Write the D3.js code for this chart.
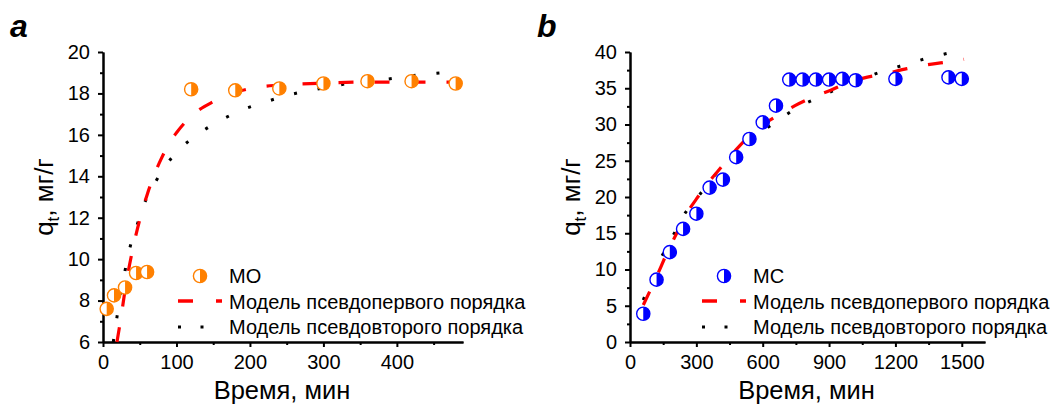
<!DOCTYPE html>
<html>
<head>
<meta charset="utf-8">
<script src="https://cdn.jsdelivr.net/npm/d3@7"></script>
<style>
  body { margin: 0; background: #fff; }
  svg text { font-family: "Liberation Sans", Arial, sans-serif; fill: #000; }
</style>
</head>
<body>
<svg id="chart" width="1062" height="406"></svg>
<script>
// panel a: MO
const aTime = [5, 15, 30, 45, 60, 120, 180, 240, 300, 360, 420, 480];
const aQ = [7.6, 8.25, 8.63, 9.33, 9.38, 18.2, 18.15, 18.24, 18.48, 18.59, 18.59, 18.48];
const aFirstT = [19, 25, 30, 40, 50, 60, 70, 80, 90, 100, 120, 150, 180, 210, 240, 300, 360, 420, 485];
const aFirstQ = [6.0, 7.3, 8.5, 10.4, 11.9, 13.1, 14.1, 14.9, 15.6, 16.1, 16.9, 17.6, 18.05, 18.3, 18.4, 18.5, 18.55, 18.55, 18.55];
const aSecondT = [14, 19, 23.5, 30, 37, 46, 57, 71, 87, 107, 132, 160, 189, 218, 250, 282, 314, 336, 368, 400, 432, 463];
const aSecondQ = [6.0, 7.2, 8.3, 9.45, 10.6, 11.6, 12.75, 13.7, 14.6, 15.4, 16.1, 16.7, 17.2, 17.55, 17.9, 18.15, 18.35, 18.5, 18.6, 18.75, 18.9, 19.0];
const aXTicks = [0, 100, 200, 300, 400];
const aXMinor = [50, 150, 250, 350, 450];
const aYTicks = [6, 8, 10, 12, 14, 16, 18, 20];
const aYMinor = [7, 9, 11, 13, 15, 17, 19];

// panel b: MC
const bTime = [60, 120, 180, 240, 300, 360, 420, 480, 540, 600, 660, 720, 780, 840, 900, 960, 1020, 1200, 1440, 1500];
const bQ = [3.9, 8.6, 12.4, 15.6, 17.7, 21.3, 22.4, 25.5, 28.0, 30.3, 32.6, 36.2, 36.2, 36.2, 36.2, 36.3, 36.1, 36.3, 36.5, 36.3];
const bFirstT = [60, 120, 166, 211, 248, 302, 347, 415, 482, 543, 603, 678, 746, 837, 905, 987, 1055, 1153, 1252, 1335, 1432, 1510];
const bFirstQ = [5.1, 9.0, 12.2, 15.0, 17.3, 19.8, 21.7, 24.2, 26.6, 28.5, 30.0, 31.4, 32.6, 33.9, 34.7, 35.8, 36.4, 37.0, 37.7, 38.2, 38.6, 39.0];
const bSecondT = [60, 100, 143, 196, 241, 302, 362, 430, 505, 588, 675, 761, 851, 950, 1048, 1150, 1249, 1350, 1455];
const bSecondQ = [5.8, 8.8, 11.75, 14.75, 17.4, 19.8, 22.2, 24.65, 26.8, 28.8, 30.7, 32.4, 33.7, 35.1, 36.3, 37.4, 38.3, 39.2, 39.95];
const bXTicks = [0, 300, 600, 900, 1200, 1500];
const bXMinor = [150, 450, 750, 1050, 1350];
const bYTicks = [0, 5, 10, 15, 20, 25, 30, 35, 40];
const bYMinor = [2.5, 7.5, 12.5, 17.5, 22.5, 27.5, 32.5, 37.5];

const svg = d3.select("#chart");

const panels = [
  {
    label: "a", name: "MO", color: "#ff8000",
    left: 103, right: 463, xMax: 490, yMin: 6, yMax: 20,
    time: aTime, q: aQ,
    firstT: aFirstT, firstQ: aFirstQ, secondT: aSecondT, secondQ: aSecondQ,
    xTicks: aXTicks, xMinor: aXMinor, yTicks: aYTicks, yMinor: aYMinor,
    legendX: 178
  },
  {
    label: "b", name: "MC", color: "#0000ff",
    left: 630, right: 985, xMax: 1605, yMin: 0, yMax: 40,
    time: bTime, q: bQ,
    firstT: bFirstT, firstQ: bFirstQ, secondT: bSecondT, secondQ: bSecondQ,
    xTicks: bXTicks, xMinor: bXMinor, yTicks: bYTicks, yMinor: bYMinor,
    legendX: 702
  }
];

const plotTop = 52, plotBottom = 342;

panels.forEach(function(p) {
  const x = d3.scaleLinear().domain([0, p.xMax]).range([p.left, p.right]);
  const y = d3.scaleLinear().domain([p.yMin, p.yMax]).range([plotBottom, plotTop]);
  const g = svg.append("g");

  // panel letter
  g.append("text")
    .attr("x", p.left - 93)
    .attr("y", 37)
    .style("font-size", "32px")
    .style("font-weight", "bold")
    .style("font-style", "italic")
    .text(p.label);

  // axes
  g.append("g").attr("transform", "translate(0," + plotBottom + ")")
    .call(d3.axisBottom(x).tickValues(p.xTicks).tickSize(5).tickSizeOuter(0).tickPadding(8).tickFormat(d3.format("d")));
  g.append("g").attr("transform", "translate(0," + plotBottom + ")")
    .call(d3.axisBottom(x).tickValues(p.xMinor).tickSize(3).tickSizeOuter(0).tickFormat(""));
  g.append("g").attr("transform", "translate(" + p.left + ",0)")
    .call(d3.axisLeft(y).tickValues(p.yTicks).tickSize(5).tickSizeOuter(0).tickPadding(8).tickFormat(d3.format("d")));
  g.append("g").attr("transform", "translate(" + p.left + ",0)")
    .call(d3.axisLeft(y).tickValues(p.yMinor).tickSize(3).tickSizeOuter(0).tickFormat(""));

  g.selectAll(".domain").attr("stroke", "#000").attr("stroke-width", 2);
  g.selectAll(".tick line").attr("stroke", "#000").attr("stroke-width", 2);
  g.selectAll(".tick text").style("font-size", "20px").attr("fill", "#000");

  // axis titles
  g.append("text")
    .attr("x", (p.left + p.right) / 2 - 1)
    .attr("y", 399)
    .attr("text-anchor", "middle")
    .style("font-size", "25.5px")
    .text("Время, мин");

  const yTitle = g.append("text")
    .attr("transform", "translate(" + (p.left - 50) + "," + ((plotTop + plotBottom) / 2) + ") rotate(-90)")
    .attr("text-anchor", "middle")
    .style("font-size", "26px");
  yTitle.append("tspan").text("q");
  yTitle.append("tspan").attr("dy", 6).style("font-size", "17px").text("t");
  yTitle.append("tspan").attr("dy", -6).text(", мг/г");

  // model curves
  const line = d3.line()
    .x(function(d) { return x(d[0]); })
    .y(function(d) { return y(d[1]); })
    .curve(d3.curveMonotoneX);

  g.append("path")
    .datum(p.secondT.map(function(t, i) { return [t, p.secondQ[i]]; }))
    .attr("d", line)
    .attr("fill", "none")
    .attr("stroke", "#000")
    .attr("stroke-width", 3)
    .attr("stroke-dasharray", "3,21");

  g.append("path")
    .datum(p.firstT.map(function(t, i) { return [t, p.firstQ[i]]; }))
    .attr("d", line)
    .attr("fill", "none")
    .attr("stroke", "#ff0000")
    .attr("stroke-width", 3.2)
    .attr("stroke-dasharray", "15,21");

  // half filled markers
  const halfArc = d3.arc().innerRadius(0).outerRadius(6.6).startAngle(0).endAngle(Math.PI);
  function marker(sel) {
    sel.append("circle").attr("r", 6.6).attr("fill", "#fff")
      .attr("stroke", p.color).attr("stroke-width", 1.4);
    sel.append("path").attr("d", halfArc()).attr("fill", p.color);
  }

  g.selectAll(".pt")
    .data(p.time)
    .enter()
    .append("g")
    .attr("class", "pt")
    .attr("transform", function(t, i) { return "translate(" + x(t) + "," + y(p.q[i]) + ")"; })
    .call(marker);

  // legend
  const lx = p.legendX;
  const lg = g.append("g");
  lg.append("g").attr("transform", "translate(" + (lx + 22) + ",276)").call(marker);
  lg.append("line").attr("x1", lx).attr("x2", lx + 15).attr("y1", 301).attr("y2", 301)
    .attr("stroke", "#ff0000").attr("stroke-width", 3.5);
  lg.append("line").attr("x1", lx + 38).attr("x2", lx + 44).attr("y1", 301).attr("y2", 301)
    .attr("stroke", "#ff0000").attr("stroke-width", 3.5);
  [lx + 1.5, lx + 24].forEach(function(dx) {
    lg.append("rect").attr("x", dx - 1.5).attr("y", 325.5).attr("width", 3).attr("height", 3).attr("fill", "#000");
  });
  const legendTexts = [p.name, "Модель псевдопервого порядка", "Модель псевдовторого порядка"];
  lg.selectAll(".lt")
    .data(legendTexts)
    .enter()
    .append("text")
    .attr("x", lx + 51)
    .attr("y", function(d, i) { return 276 + i * 25.5; })
    .attr("dy", "0.36em")
    .style("font-size", "20px")
    .text(function(d) { return d; });
});
</script>
</body>
</html>
